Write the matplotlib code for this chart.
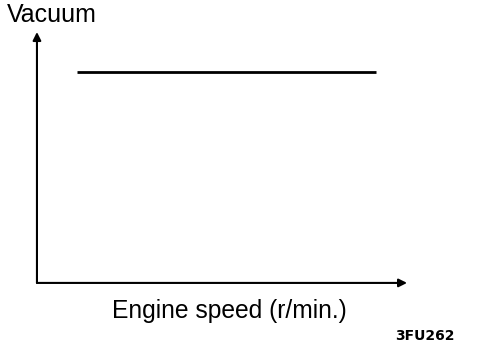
import matplotlib.pyplot as plt

# Data (arbitrary units)
engine_speed = [1.08, 9.16]
vacuum = [8.4, 8.4]

x_label = 'Engine speed (r/min.)'
y_label = 'Vacuum'
fig_code = '3FU262'

plt.rcParams['font.family'] = ['Liberation Sans', 'DejaVu Sans']

fig = plt.figure(figsize=(4.8, 3.48), dpi=100)
ax = fig.add_axes([0.077, 0.187, 0.771, 0.721])
ax.set_xlim(0, 10)
ax.set_ylim(0, 10)
for s in ax.spines.values():
    s.set_visible(False)
ax.set_xticks([])
ax.set_yticks([])

ax.plot(engine_speed, vacuum, color='black', lw=2.0, solid_capstyle='butt')

# axes drawn as arrows
ax.annotate('', xy=(0, 1), xytext=(0, 0), xycoords='axes fraction',
            arrowprops=dict(arrowstyle='-|>', color='black', lw=1.5,
                            mutation_scale=12, shrinkA=0, shrinkB=0))
ax.annotate('', xy=(1, 0), xytext=(0, 0), xycoords='axes fraction',
            arrowprops=dict(arrowstyle='-|>', color='black', lw=1.5,
                            mutation_scale=12, shrinkA=0, shrinkB=0))

fig.text(7 / 480, 1 - 22 / 348, y_label, fontsize=18, va='baseline', ha='left')
fig.text(229 / 480, 1 - 318 / 348, x_label, fontsize=17.7, va='baseline', ha='center')
fig.text(425 / 480, 1 - 340 / 348, fig_code, fontsize=10, fontweight='bold',
         family='DejaVu Sans', va='baseline', ha='center')

fig.savefig('out.png', dpi=100)
